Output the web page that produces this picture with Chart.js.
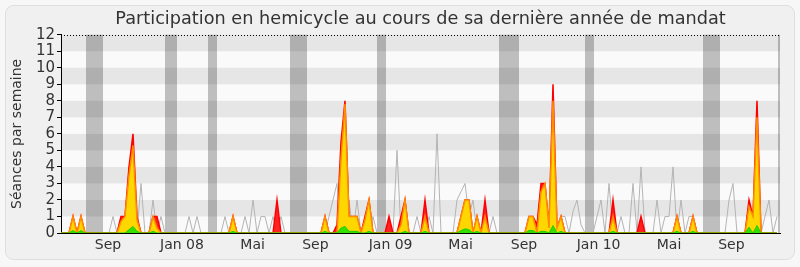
<!DOCTYPE html>
<html><head><meta charset="utf-8">
<script src="https://cdn.jsdelivr.net/npm/chart.js@4.4.1/dist/chart.umd.min.js"></script>
<style>html,body{margin:0;padding:0;background:#f7f7f7;overflow:hidden}</style>
</head><body>
<canvas id="c" width="800" height="267"></canvas>
<script>
// Weekly values (week index 0..179)
const presences = [
0,0,0,1,0,1,0,0,0,0,
0,0,0,0,0,1,1,4,6,1,
0,0,0,1,1,0,0,0,0,0,
0,0,0,0,0,0,0,0,0,0,
0,0,0,1,0,0,0,0,0,0,
0,0,0,0,2,0,0,0,0,0,
0,0,0,0,0,0,1,0,0,0.5,
5.5,8,1,1,1,0,1,2,0,0,
0,0,1,0,0,1,2,0,0,0,
0,2,0,0,0,0,0,0,0,0,
1,2,2,0,1,0,2,0,0,0,
0,0,0,0,0,0,0,1,1,0.5,
3,3,0.3,9,0.3,1,0,0,0,0,
0,0,0,0,0,0,0,0,2,0,
0,0,0,0,0,1,0,0,0,0,
0,0,0,0,1,0,0,0,1,0,
0,0,0,0,0,0,0,0,0,0,
0,0,2,1,8,0,0,0,0,0
];
const participations = [
0,0,0,1,0,1,0,0,0,0,
0,0,0,0,0,0.7,1,3.5,5.3,0.8,
0,0,0,1,0.3,0,0,0,0,0,
0,0,0,0,0,0,0,0,0,0,
0,0,0,1,0,0,0,0,0,0,
0,0,0,0,0,0,0,0,0,0,
0,0,0,0,0,0,1,0,0,0,
4.5,7.8,1,1,1,0,0.8,2,0,0,
0,0,0,0,0,0.5,2,0,0,0,
0,1,0,0,0,0,0,0,0,0,
1,2,2,0,1,0,1,0,0,0,
0,0,0,0,0,0,0,1,1,0,
2.5,3,0.3,8,0.3,1,0,0,0,0,
0,0,0,0,0,0,0,0,1,0,
0,0,0,0,0,0,0,0,0,0,
0,0,0,0,1,0,0,0,1,0,
0,0,0,0,0,0,0,0,0,0,
0,0,1.6,1,7,0,0,0,0,0
];
const interventions = [
0,0,0,0.15,0,0.15,0,0,0,0,
0,0,0,0,0,0,0,0.2,0.4,0.1,
0,0,0,0.1,0,0,0,0,0,0,
0,0,0,0,0,0,0,0,0,0,
0,0,0,0.1,0,0,0,0,0,0,
0,0,0,0,0,0,0,0,0,0,
0,0,0,0,0,0,0.1,0,0,0,
0.3,0.4,0.1,0.1,0.1,0,0,0.1,0,0,
0,0,0,0,0,0,0.1,0,0,0,
0,0.1,0,0,0,0,0,0,0,0,
0.15,0.25,0.2,0,0.1,0,0,0,0,0,
0,0,0,0,0,0,0,0.15,0.15,0,
0.1,0.1,0,0.45,0,0.1,0,0,0,0,
0,0,0,0,0,0,0,0,0.1,0,
0,0,0,0,0,0,0,0,0,0,
0,0,0,0,0.1,0,0,0,0.1,0,
0,0,0,0,0,0,0,0,0,0,
0,0,0.35,0,0.45,0,0,0,0,0
];
const mediane = [
0,0,0,0,0,0,0,0,0,0,
0,0,0,1,0,1,0,4,0,0,
3,0,0,2,0,1,0,0,0,0,
0,0,1,0,1,0,0,0,0,0,
0,1,0,0,0,0,1,0,2,0,
1,1,0,1,0,1,0,0,0,0,
0,0,0,0,0,0,0,1,2,3,
0,0,2,0,2,0,0,0,1,0,
0,0,0,0,5,0,0,0,0,1,
0,0,1,0,6,0,0,0,0,2,
2.5,3,1,2,0,0,0,0,1,0,
0,0,0,0,0,0,0,0,0,0,
0,0,0,0,0,1,1,0,1.3,2,
0.5,0,0,0,1,2,0,3,0,0,
1,0,0,3,0,4,0,0,0,2,
0,1,1,4,0,2,0,1,1,0,
0,0,0,0,0,0,0,2,3,0,
0,0,0,0,0,0,1,2,0,1
];
// Parliamentary recess periods (start/end in weeks)
const vacStart = [6.25, 26, 36.75, 57.25, 79, 109.5, 131, 160.5, 179.25];
const vacEnd   = [10.5, 29, 39,    61.5,  81.25,114.5,133.25,164.75,179.75];
// Month tick labels and their week positions
const tickLabels = ['Sep','Jan 08','Mai','Sep','Jan 09','Mai','Sep','Jan 10','Mai','Sep'];
const tickWeeks  = [11.75, 30.25, 47.9, 63.6, 82.4, 99.9, 115.75, 134.4, 152, 167.6];

const FONT = 'DejaVu Sans';
const pts = arr => arr.map((v, i) => ({x: i, y: v}));

const bgPlugin = {
  id: 'bgPlugin',
  beforeDraw(chart) {
    const {ctx, width, height, chartArea: a, scales: {x, y}} = chart;
    ctx.save();
    ctx.fillStyle = '#f7f7f7';
    ctx.fillRect(0, 0, width, height);
    const rx = 5.5, ry = 5.5, rw = 789, rh = 254, r = 8;
    ctx.beginPath();
    ctx.moveTo(rx + r, ry);
    ctx.arcTo(rx + rw, ry, rx + rw, ry + rh, r);
    ctx.arcTo(rx + rw, ry + rh, rx, ry + rh, r);
    ctx.arcTo(rx, ry + rh, rx, ry, r);
    ctx.arcTo(rx, ry, rx + rw, ry, r);
    ctx.closePath();
    ctx.fillStyle = '#f0f0f0';
    ctx.fill();
    ctx.strokeStyle = '#dedede';
    ctx.lineWidth = 1;
    ctx.stroke();
    ctx.fillStyle = '#fafafa';
    ctx.fillRect(a.left, a.top, a.right - a.left, a.bottom - a.top);
    ctx.fillStyle = '#bebebe';
    for (let i = 0; i < vacStart.length; i++) {
      const x0 = x.getPixelForValue(vacStart[i]);
      const x1 = x.getPixelForValue(vacEnd[i]);
      ctx.fillRect(x0, a.top, x1 - x0, a.bottom - a.top);
    }
    ctx.fillStyle = 'rgba(0,0,0,0.08)';
    for (let k = 1; k < 12; k += 2) {
      const y0 = y.getPixelForValue(k + 1);
      const y1 = y.getPixelForValue(k);
      ctx.fillRect(a.left, y0, a.right - a.left, y1 - y0);
    }
    ctx.restore();
  },
  afterDatasetsDraw(chart) {
    const {ctx, chartArea: a, scales: {y}} = chart;
    const yy = Math.round(y.getPixelForValue(12)) + 0.5;
    ctx.save();
    ctx.strokeStyle = '#000';
    ctx.lineWidth = 1;
    ctx.setLineDash([1, 2]);
    ctx.beginPath();
    ctx.moveTo(a.left, yy);
    ctx.lineTo(a.right, yy);
    ctx.stroke();
    ctx.restore();
  }
};

new Chart(document.getElementById('c'), {
  type: 'line',
  data: {
    datasets: [
      {label: 'Interventions', data: pts(interventions), fill: 'origin',
       backgroundColor: '#33e000', borderColor: '#22cc00', borderWidth: 1, order: 0},
      {label: 'Participations', data: pts(participations), fill: 'origin',
       backgroundColor: '#ffd700', borderColor: '#ff8c00', borderWidth: 1.5, order: 1},
      {label: 'Présences', data: pts(presences), fill: 'origin',
       backgroundColor: '#ff2222', borderColor: '#ff0000', borderWidth: 1.5, order: 2},
      {label: 'Médiane', data: pts(mediane), fill: false,
       borderColor: '#b4b4b4', borderWidth: 1, order: 3}
    ]
  },
  options: {
    responsive: false,
    animation: false,
    devicePixelRatio: 1,
    elements: {point: {radius: 0}, line: {tension: 0}},
    layout: {padding: {left: 9, right: 20, top: 0, bottom: 0}},
    plugins: {
      legend: {display: false},
      tooltip: {enabled: false},
      title: {
        display: true, fullSize: false,
        text: 'Participation en hemicycle au cours de sa dernière année de mandat',
        color: '#333', font: {family: FONT, size: 17.7, weight: 'normal', lineHeight: 1.2},
        padding: {top: 9, bottom: 4.5}
      }
    },
    scales: {
      x: {
        type: 'linear', min: 0, max: 179.75,
        afterFit: s => { s.height = 34; },
        afterBuildTicks: s => { s.ticks = tickWeeks.map(v => ({value: v})); },
        ticks: {
          autoSkip: false, maxRotation: 0, padding: 4,
          color: '#333', font: {family: FONT, size: 14},
          callback: (v, i) => tickLabels[i]
        },
        grid: {display: false, drawTicks: false},
        border: {display: true, color: '#000', width: 1}
      },
      y: {
        min: 0, max: 12,
        afterFit: s => { s.width = 52; },
        ticks: {stepSize: 1, autoSkip: false, padding: 2, color: '#333', font: {family: FONT, size: 15}},
        grid: {drawOnChartArea: false, drawTicks: true, tickLength: 4, color: '#000'},
        border: {display: true, color: '#000', width: 1},
        title: {display: true, text: 'Séances par semaine', color: '#333',
                font: {family: FONT, size: 14}, padding: 0}
      }
    }
  },
  plugins: [bgPlugin]
});
</script>
</body></html>
